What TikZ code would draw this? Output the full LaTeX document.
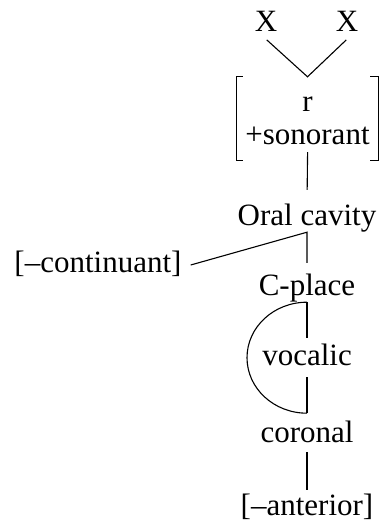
\documentclass[tikz,border=0pt]{standalone}
\usepackage{fontspec}
\setmainfont{Liberation Serif}
\usetikzlibrary{positioning}
\tikzset{feat/.style={font=\fontsize{31}{33}\selectfont, text height=21pt, text depth=7pt, inner sep=0pt},
    link/.style={line width=1.1pt}}

\begin{document}
\begin{tikzpicture}[x=1pt, y=-1pt]
    \useasboundingbox (0,0) rectangle (384,524);
    \node[feat] (x1) at (266,25) {X};
    \node[feat] (x2) at (347,25) {X};
    \node[font=\fontsize{31}{33}\selectfont, align=center, inner sep=0pt, minimum width=141pt, minimum height=83pt] (sonor) at (307.5,118.5) {\rule{0pt}{20pt}r\\+sonorant};
    \node[feat] (oral) at (307,218) {Oral cavity};
    \node[feat, inner xsep=9pt] (cont) at (98,265) {[--continuant]};
    \node[feat, below of=oral, node distance=70pt] (cplace) {C-place};
    \node[feat, below of=cplace, node distance=70pt] (vocalic) {vocalic};
    \node[feat, below of=vocalic, node distance=77pt] (coronal) {coronal};
    \node[feat, below of=coronal, node distance=73pt] (anterior) {[--anterior]};
    % brackets round the root
    \draw[link] ([xshift=6pt]sonor.north west) -- (sonor.north west) -- (sonor.south west) -- ([xshift=6pt]sonor.south west);
    \draw[link] ([xshift=-8pt]sonor.north east) -- (sonor.north east) -- (sonor.south east) -- ([xshift=-8pt]sonor.south east);
    \draw[link, shorten <=1pt, shorten >=1pt] (x1.south) -- (sonor.north) -- (x2.south);
    \draw[link, shorten <=-8pt, shorten >=14pt] (sonor.south) -- (oral.north);
    \draw[link, shorten >=11pt] (cont.east) -- (oral.south) -- (cplace.north);
    \draw[link] (cplace.south) arc[start angle=90, end angle=270, x radius=60pt, y radius=55.5pt];
    \draw[link, shorten >=6pt] (cplace.south) -- (vocalic.north);
    \draw[link, shorten <=5pt, shorten >=8pt] (vocalic.south) -- (coronal.north);
    \draw[link, shorten <=3pt, shorten >=4pt] (coronal.south) -- (anterior.north);
\end{tikzpicture}
\end{document}
